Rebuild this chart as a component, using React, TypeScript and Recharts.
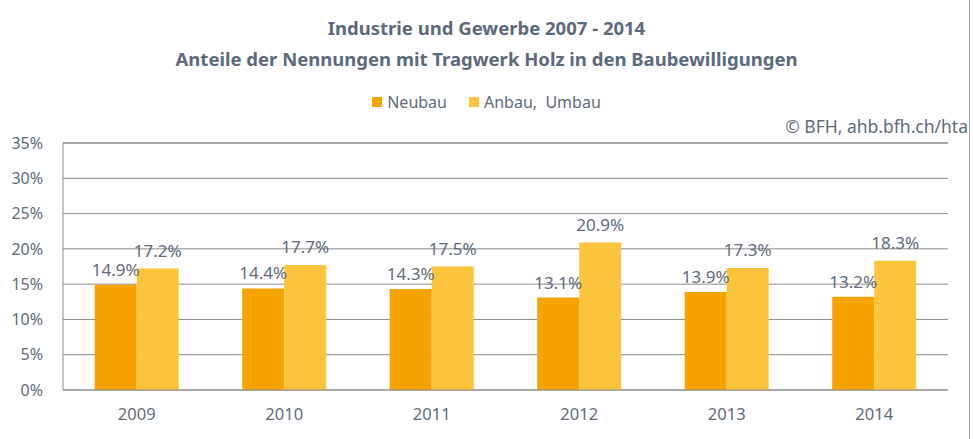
import { BarChart, Bar, XAxis, YAxis, CartesianGrid, LabelList, ReferenceLine } from "recharts"

const years = ["2009", "2010", "2011", "2012", "2013", "2014"]
const neubau = [14.9, 14.4, 14.3, 13.1, 13.9, 13.2]
const anbauUmbau = [17.2, 17.7, 17.5, 20.9, 17.3, 18.3]
const yTicks = [0, 5, 10, 15, 20, 25, 30, 35]

const data = years.map((year, i) => ({ year, neubau: neubau[i], anbau: anbauUmbau[i] }))

const textColor = "#5f6b7b"
const titleColor = "#5b6a7d"
const font = "'Noto Sans', 'Open Sans', sans-serif"

const pct = (v: any) => `${Number(v).toFixed(1)}%`

export default function App() {
  return (
    <div style={{ position: "absolute", left: 0, top: 0, width: 973, height: 439, background: "#fff", fontFamily: font }}>
      <style>{`body{margin:0}`}</style>
      <div style={{ position: "absolute", left: 0, width: 973, top: 12, textAlign: "center", color: titleColor, fontWeight: 700, fontSize: 18.5, lineHeight: "31px" }}>
        <div>Industrie und Gewerbe 2007 - 2014</div>
        <div>Anteile der Nennungen mit Tragwerk Holz in den Baubewilligungen</div>
      </div>
      <div style={{ position: "absolute", top: 91, left: 0, width: 973, display: "flex", justifyContent: "center", color: textColor, fontSize: 16 }}>
        <span style={{ display: "flex", alignItems: "center", marginRight: 22 }}>
          <span style={{ width: 10, height: 10, background: "#f5a300", marginRight: 5 }} />
          Neubau
        </span>
        <span style={{ display: "flex", alignItems: "center" }}>
          <span style={{ width: 10, height: 10, background: "#fbc43c", marginRight: 5 }} />
          Anbau,&nbsp; Umbau
        </span>
      </div>
      <div style={{ position: "absolute", top: 114, right: 5, color: textColor, fontSize: 17.5 }}>
        © BFH, ahb.bfh.ch/hta
      </div>
      <div style={{ position: "absolute", right: 3, top: 0, width: 1, height: 439, background: "#a0a0a0" }} />
      <BarChart
        width={973}
        height={439}
        data={data}
        margin={{ top: 143, right: 25, left: 0, bottom: 19 }}
        barCategoryGap="21.5%"
        barGap={0}
      >
        <CartesianGrid vertical={false} stroke="#8c8c8c" />
        <XAxis
          dataKey="year"
          tick={{ fontSize: 16.5, fill: textColor, fontFamily: font }}
          tickLine={false}
          axisLine={{ stroke: "#8c8c8c" }}
          tickMargin={12}
        />
        <YAxis
          domain={[0, 35]}
          ticks={yTicks}
          tickFormatter={(v) => `${v}%`}
          tick={{ fontSize: 16, fill: textColor, fontFamily: font }}
          tickLine={false}
          axisLine={{ stroke: "#8c8c8c" }}
          width={63}
          tickMargin={14}
        />
        <ReferenceLine y={35} stroke="#8c8c8c" />
        <Bar dataKey="neubau" fill="#f5a300" isAnimationActive={false}>
          <LabelList dataKey="neubau" position="top" offset={9} formatter={pct} style={{ fontSize: 17, fill: textColor, fontFamily: font }} />
        </Bar>
        <Bar dataKey="anbau" fill="#fbc43c" isAnimationActive={false}>
          <LabelList dataKey="anbau" position="top" offset={12} formatter={pct} style={{ fontSize: 17, fill: textColor, fontFamily: font }} />
        </Bar>
      </BarChart>
    </div>
  )
}
